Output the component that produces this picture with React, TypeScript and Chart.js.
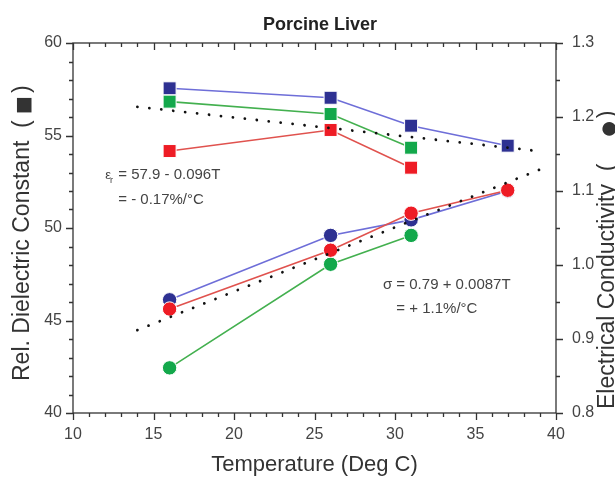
import React, { useEffect, useRef } from "react";
import { Chart, registerables } from "chart.js";

Chart.register(...registerables);

const FONT = '"Liberation Sans", Arial, Helvetica, sans-serif';

// Temperatures (Deg C)
const temps = [16, 26, 31, 37];
// Relative dielectric constant (left axis, squares)
const dielBlue = [57.55, 57.04, 55.53, 54.45];
const dielGreen = [56.83, 56.16, 54.34];
const dielRed = [54.16, 55.3, 53.26];
// Electrical conductivity (right axis, circles)
const condBlue = [0.953, 1.04, 1.061, 1.1];
const condGreen = [0.861, 1.001, 1.04];
const condRed = [0.9405, 1.02, 1.07, 1.101];
// Linear fit lines (dotted)
const trendT = [14, 39];
const dielTrend = [56.55, 54.15];
const condTrend = [0.912, 1.129];

const xTicks = [10, 15, 20, 25, 30, 35, 40];
const yLeftTicks = [40, 45, 50, 55, 60];
const yRightTicks = [0.8, 0.9, 1.0, 1.1, 1.2, 1.3];

const pts = (xs: number[], ys: number[]) => ys.map((y, i) => ({ x: xs[i], y }));

const BLUE = "#2e3192";
const BLUE_LINE = "#6e6ed8";
const GREEN = "#13a84b";
const GREEN_LINE = "#43b04f";
const RED = "#ee1c25";
const RED_LINE = "#e0524e";

// Draws a vertical (bottom-to-top) title: text, then a symbol centred at symY, then ")".
function drawVTitle(ctx: any, baseX: number, startY: number, text: string, sym: string, symY: number, size: number, symSize: number) {
  ctx.save();
  ctx.translate(baseX, startY);
  ctx.rotate(-Math.PI / 2);
  ctx.textAlign = "left";
  ctx.textBaseline = "alphabetic";
  ctx.font = `${size}px ${FONT}`;
  ctx.fillText(text, 0, 0);
  ctx.font = `${symSize}px "DejaVu Sans", ${FONT}`;
  const sw = ctx.measureText(sym).width;
  const c = startY - symY;
  ctx.fillText(sym, c - sw / 2, 0);
  ctx.font = `${size}px ${FONT}`;
  ctx.fillText(")", c + sw / 2 + 3, 0);
  ctx.restore();
}

const framePlugin = {
  id: "frame",
  afterDraw(chart: any) {
    const { ctx, chartArea: a, scales } = chart;
    const sx = scales.x;
    const sy = scales.y;
    const sy1 = scales.y1;
    ctx.save();
    ctx.strokeStyle = "#333";
    ctx.lineWidth = 1.3;
    ctx.strokeRect(a.left, a.top, a.right - a.left, a.bottom - a.top);
    ctx.beginPath();
    for (let v = 10; v <= 40; v++) {
      const px = Math.round(sx.getPixelForValue(v)) + 0.5;
      const L = v % 5 === 0 ? 7 : 4;
      ctx.moveTo(px, a.bottom);
      ctx.lineTo(px, a.bottom + L);
      ctx.moveTo(px, a.top);
      ctx.lineTo(px, a.top + L);
    }
    for (let v = 40; v <= 60; v++) {
      const py = Math.round(sy.getPixelForValue(v)) + 0.5;
      const L = v % 5 === 0 ? 7 : 4;
      ctx.moveTo(a.left, py);
      ctx.lineTo(a.left - L, py);
    }
    for (let k = 0; k <= 10; k++) {
      const v = 0.8 + k * 0.05;
      const py = Math.round(sy1.getPixelForValue(v)) + 0.5;
      const L = k % 2 === 0 ? 7 : 4;
      ctx.moveTo(a.right, py);
      ctx.lineTo(a.right + L, py);
    }
    ctx.stroke();

    // Title
    ctx.fillStyle = "#222";
    ctx.textAlign = "center";
    ctx.textBaseline = "middle";
    ctx.font = `bold 18px ${FONT}`;
    ctx.fillText("Porcine Liver", 320, 25);

    // Axis titles
    ctx.fillStyle = "#333";
    ctx.font = `22px ${FONT}`;
    ctx.fillText("Temperature (Deg C)", (a.left + a.right) / 2, 465);
    drawVTitle(ctx, 29, 381, "Rel. Dielectric Constant  (", "\u25A0", 105, 23, 19);
    ctx.fillStyle = "#333";
    drawVTitle(ctx, 614, 409, "Electrical Conductivity  (", "\u25CF", 129, 23, 18);

    // Annotations
    ctx.fillStyle = "#444";
    ctx.textAlign = "left";
    ctx.textBaseline = "middle";
    const e1x = sx.getPixelForValue(12);
    const e1y = sy.getPixelForValue(52.86);
    ctx.font = `13px ${FONT}`;
    ctx.fillText("\u03B5", e1x, e1y);
    const ew = ctx.measureText("\u03B5").width;
    ctx.font = `9px ${FONT}`;
    ctx.fillText("r", e1x + ew - 1, e1y + 5);
    ctx.font = `15px ${FONT}`;
    ctx.fillText("= 57.9 - 0.096T", e1x + 13, e1y);
    ctx.fillText("= - 0.17%/\u00B0C", e1x + 13, sy.getPixelForValue(51.51));

    const s1x = sx.getPixelForValue(29.25);
    ctx.fillText("\u03C3 = 0.79 + 0.0087T", s1x, sy.getPixelForValue(46.92));
    const sw = ctx.measureText("\u03C3 ").width;
    ctx.fillText("= + 1.1%/\u00B0C", s1x + sw, sy.getPixelForValue(45.62));
    ctx.restore();
  },
};

const sqDs = (data: any[], c: string, lc: string) => ({
  data,
  yAxisID: "y",
  borderColor: lc,
  borderWidth: 1.6,
  pointStyle: "rect",
  pointRadius: 9.2,
  pointBackgroundColor: c,
  pointBorderColor: "#fff",
  pointBorderWidth: 1,
  fill: false,
  tension: 0,
});

const ciDs = (data: any[], c: string, lc: string) => ({
  data,
  yAxisID: "y1",
  borderColor: lc,
  borderWidth: 1.6,
  pointStyle: "circle",
  pointRadius: 7.2,
  pointBackgroundColor: c,
  pointBorderColor: "#fff",
  pointBorderWidth: 1,
  fill: false,
  tension: 0,
});

const trendDs = (data: any[], axis: string) => ({
  data,
  yAxisID: axis,
  borderColor: "#111",
  borderWidth: 2.8,
  borderDash: [0.01, 12],
  borderCapStyle: "round",
  pointRadius: 0,
  fill: false,
});

export default function App() {
  const ref = useRef<HTMLCanvasElement>(null);
  useEffect(() => {
    if (!ref.current) return;
    const chart = new Chart(ref.current, {
      type: "line",
      data: {
        datasets: [
          trendDs(pts(trendT, dielTrend), "y"),
          trendDs(pts(trendT, condTrend), "y1"),
          ciDs(pts(temps, condRed), RED, RED_LINE),
          ciDs(pts(temps, condGreen), GREEN, GREEN_LINE),
          ciDs(pts(temps, condBlue), BLUE, BLUE_LINE),
          sqDs(pts(temps, dielRed), RED, RED_LINE),
          sqDs(pts(temps, dielGreen), GREEN, GREEN_LINE),
          sqDs(pts(temps, dielBlue), BLUE, BLUE_LINE),
        ] as any,
      },
      options: {
        responsive: false,
        animation: false,
        layout: { padding: { top: 43, left: 0, right: 0, bottom: 0 } },
        plugins: {
          legend: { display: false },
          tooltip: { enabled: false },
          title: { display: false },
        },
        scales: {
          x: {
            type: "linear",
            position: "bottom",
            min: 10,
            max: 40,
            grid: { display: false, drawTicks: false },
            border: { display: false },
            afterBuildTicks: (s: any) => {
              s.ticks = xTicks.map((v) => ({ value: v }));
            },
            ticks: { color: "#444", font: { size: 16, family: FONT }, padding: 12, maxRotation: 0 },
            afterFit: (s: any) => {
              s.height = 64;
            },
          },
          y: {
            type: "linear",
            position: "left",
            min: 40,
            max: 60,
            grid: { display: false, drawTicks: false },
            border: { display: false },
            afterBuildTicks: (s: any) => {
              s.ticks = yLeftTicks.map((v) => ({ value: v }));
            },
            ticks: { color: "#444", font: { size: 16, family: FONT }, padding: 11 },
            afterFit: (s: any) => {
              s.width = 73;
            },
          },
          y1: {
            type: "linear",
            position: "right",
            min: 0.8,
            max: 1.3,
            grid: { display: false, drawTicks: false },
            border: { display: false },
            afterBuildTicks: (s: any) => {
              s.ticks = yRightTicks.map((v) => ({ value: v }));
            },
            ticks: {
              color: "#444",
              font: { size: 16, family: FONT },
              padding: 16,
              callback: (v: any) => Number(v).toFixed(1),
            },
            afterFit: (s: any) => {
              s.width = 59;
            },
          },
        },
      } as any,
      plugins: [framePlugin],
    });
    return () => chart.destroy();
  }, []);
  return (
    <div style={{ position: "fixed", left: 0, top: 0, width: 615, height: 477, background: "#fff", overflow: "hidden" }}>
      <canvas ref={ref} width={615} height={477} style={{ display: "block" }} />
    </div>
  );
}
